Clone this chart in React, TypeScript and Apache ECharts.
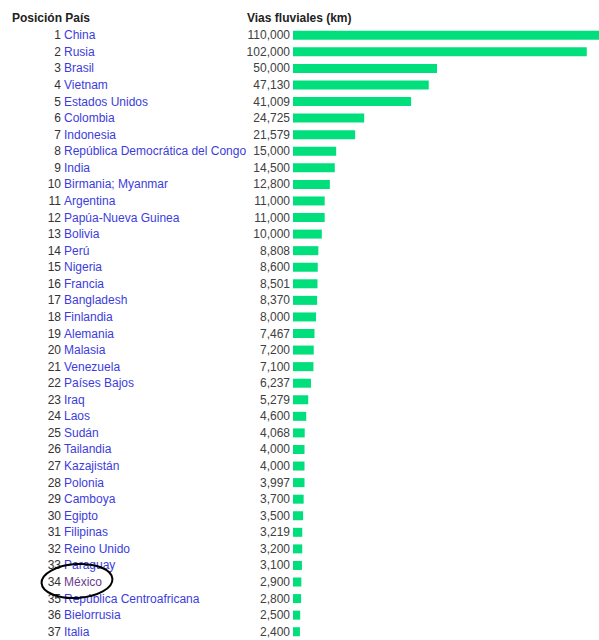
import React, { useEffect, useRef } from "react";
import * as echarts from "echarts";

const positions = ["1","2","3","4","5","6","7","8","9","10","11","12","13","14","15","16","17","18","19","20","21","22","23","24","25","26","27","28","29","30","31","32","33","34","35","36","37"];
const countries = ["China","Rusia","Brasil","Vietnam","Estados Unidos","Colombia","Indonesia","República Democrática del Congo","India","Birmania; Myanmar","Argentina","Papúa-Nueva Guinea","Bolivia","Perú","Nigeria","Francia","Bangladesh","Finlandia","Alemania","Malasia","Venezuela","Países Bajos","Iraq","Laos","Sudán","Tailandia","Kazajistán","Polonia","Camboya","Egipto","Filipinas","Reino Unido","Paraguay","México","República Centroafricana","Bielorrusia","Italia"];
const waterways = [110000,102000,50000,47130,41009,24725,21579,15000,14500,12800,11000,11000,10000,8808,8600,8501,8370,8000,7467,7200,7100,6237,5279,4600,4068,4000,4000,3997,3700,3500,3219,3200,3100,2900,2800,2500,2400];
const headers = ["Posición País", "Vias fluviales (km)"];
const highlighted = "México";

const FONT = "'Liberation Sans', Arial, sans-serif";
const fmt = (v: number) => v.toLocaleString("en-US");

export default function App() {
  const ref = useRef<HTMLDivElement>(null);
  useEffect(() => {
    if (!ref.current) return;
    const chart = echarts.init(ref.current, null, { renderer: "svg" });
    const valueLabels = waterways.map(fmt);
    const hiIndex = countries.indexOf(highlighted);
    chart.setOption({
      animation: false,
      backgroundColor: "#ffffff",
      textStyle: { fontFamily: FONT },
      grid: { left: 293, right: 0, top: 27, height: 617, containLabel: false },
      xAxis: { type: "value", min: 0, max: 106250, show: false },
      yAxis: [
        {
          type: "category", inverse: true, data: positions, position: "left", offset: 0,
          axisLine: { show: false }, axisTick: { show: false }, splitLine: { show: false },
          axisLabel: { interval: 0, margin: 232, align: "right", fontSize: 12, fontFamily: FONT, color: "#333333" },
        },
        {
          type: "category", inverse: true, data: countries, position: "left", offset: 0,
          axisLine: { show: false }, axisTick: { show: false }, splitLine: { show: false },
          axisLabel: {
            interval: 0, margin: 229, align: "left", fontSize: 12, fontFamily: FONT,
            color: (_v: string, i: number) => (i === hiIndex ? "#6a3d8f" : "#3c3cdc"),
          },
        },
        {
          type: "category", inverse: true, data: valueLabels, position: "left", offset: 0,
          axisLine: { show: false }, axisTick: { show: false }, splitLine: { show: false },
          axisLabel: { interval: 0, margin: 3, align: "right", fontSize: 12, fontFamily: FONT, color: "#404040" },
        },
      ],
      series: [
        {
          type: "bar", yAxisIndex: 0, data: waterways, barWidth: 9,
          itemStyle: { color: "#00df7c" }, clip: true,
        },
      ],
      graphic: [
        { type: "text", x: 12, y: 18, style: { text: headers[0], font: `bold 12px ${FONT}`, fill: "#222222", verticalAlign: "middle" } },
        { type: "text", x: 247, y: 18, style: { text: headers[1], font: `bold 12px ${FONT}`, fill: "#222222", verticalAlign: "middle" } },
        {
          type: "ellipse", x: 77, y: 581, rotation: 0.06, z: 100,
          shape: { cx: 0, cy: 0, rx: 35.5, ry: 17 },
          style: { fill: "none", stroke: "#000000", lineWidth: 2 },
        },
      ],
    });
    return () => chart.dispose();
  }, []);
  return <div ref={ref} style={{ position: "absolute", left: 0, top: 0, width: 599, height: 640 }} />;
}
